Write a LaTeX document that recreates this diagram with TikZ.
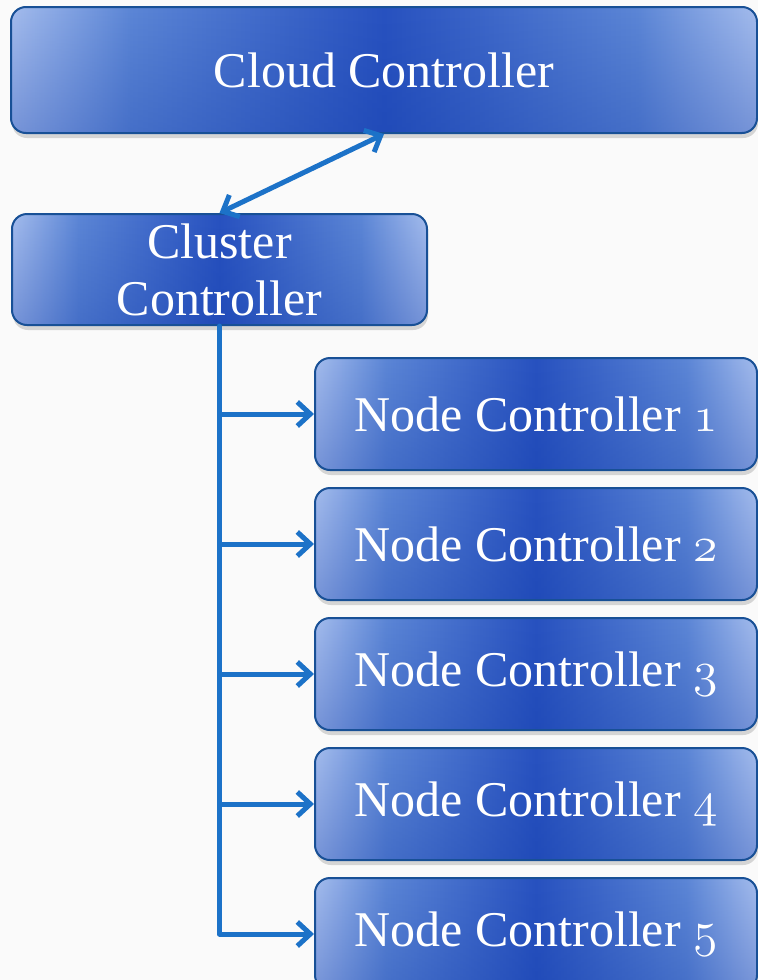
\documentclass[tikz,border=0pt]{standalone}
\usepackage{fontspec}
\setmainfont{Liberation Serif}
\usepackage{xcolor}
\usepackage{tikz}
\usetikzlibrary{positioning, shadows, fadings}
\usetikzlibrary{arrows.meta}
\tikzset{>={Straight Barb[length=6.5pt,width=12pt]}}

\definecolor{edgeblue}{RGB}{164,188,237}
\definecolor{midblue}{RGB}{92,134,214}
\definecolor{innerblue}{RGB}{40,82,192}
\definecolor{coreblue}{RGB}{16,58,168}
\definecolor{rimblue}{RGB}{24,80,150}
\definecolor{linkblue}{RGB}{28,114,200}
\pgfdeclarehorizontalshading{ctrlshade}{100bp}{color(0bp)=(edgeblue); color(25bp)=(edgeblue); color(33bp)=(midblue); color(50bp)=(innerblue); color(67bp)=(midblue); color(75bp)=(edgeblue); color(100bp)=(edgeblue)}
\newcommand\osnum[1]{{\fontencoding{OML}\fontfamily{cmm}\fontseries{m}\fontshape{it}\selectfont #1}}

\begin{document}
\begin{tikzpicture}[x=0.5pt, y=-0.5pt, ctrl/.style={rounded corners=7.5pt, draw=rimblue, line width=1pt, shading=ctrlshade, text=white, inner sep=2pt, font=\fontsize{25}{28.5}\selectfont, drop shadow={opacity=0.3, shadow xshift=0.5pt, shadow yshift=-2.5pt}, path picture={\fill[coreblue, opacity=0.3, path fading=north] (path picture bounding box.south west) rectangle (path picture bounding box.north east);}}, nodebox/.style={minimum width=221pt, minimum height=56pt}, link/.style={draw=linkblue, line width=2.5pt, line cap=round, line join=round}]
    
    \fill[black!2] (0,0) rectangle (758,980);
    \useasboundingbox (0,0) rectangle (758,980);
    
    %Nodes
    \node[ctrl, minimum width=373pt, minimum height=63pt](cloud) at (384,70) {Cloud Controller};
    \node[ctrl, minimum width=207.5pt, minimum height=55.5pt, align=center](cluster) at (219.5,269.5) {Cluster\\Controller};
    \node[ctrl, nodebox](nc1) at (536,414) {Node Controller \osnum{1}};
    \node[ctrl, nodebox](nc2)[below=8pt of nc1]{Node Controller \osnum{2}};
    \node[ctrl, nodebox](nc3)[below=8pt of nc2]{Node Controller \osnum{3}};
    \node[ctrl, nodebox](nc4)[below=8pt of nc3]{Node Controller \osnum{4}};
    \node[ctrl, nodebox](nc5)[below=8pt of nc4]{Node Controller \osnum{5}};
    
    %Lines
    \draw[link, <->] (cluster.north) -- (cloud.south);
    \draw[link, ->] (cluster.south) |- (nc5.west);
    \draw[link, ->] (cluster.south |- nc1.west) -- (nc1.west);
    \draw[link, ->] (cluster.south |- nc2.west) -- (nc2.west);
    \draw[link, ->] (cluster.south |- nc3.west) -- (nc3.west);
    \draw[link, ->] (cluster.south |- nc4.west) -- (nc4.west);
    
\end{tikzpicture}
\end{document}
